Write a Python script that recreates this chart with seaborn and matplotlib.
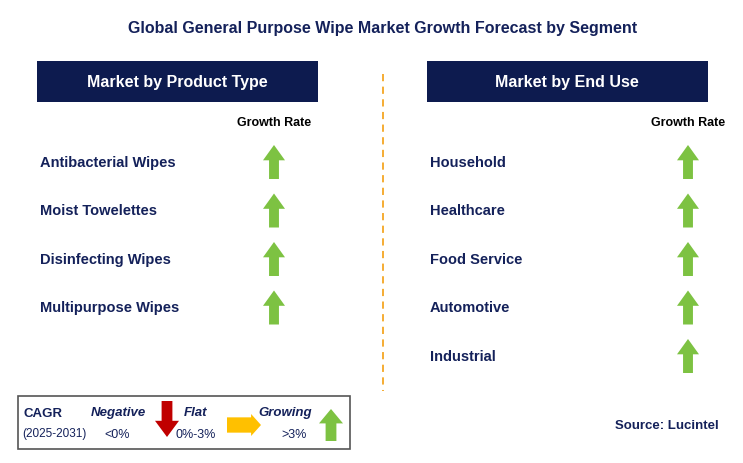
import matplotlib.pyplot as plt
import seaborn as sns
from matplotlib.patches import Rectangle, Polygon

sns.set_theme(style="white", font="Liberation Sans")

title = "Global General Purpose Wipe Market Growth Forecast by Segment"
product_types = ["Antibacterial Wipes", "Moist Towelettes", "Disinfecting Wipes", "Multipurpose Wipes"]
product_trend = ["up", "up", "up", "up"]
end_uses = ["Household", "Healthcare", "Food Service", "Automotive", "Industrial"]
end_use_trend = ["up", "up", "up", "up", "up"]

NAVY = "#0D1B4F"
TXT = "#14215A"
GREEN = "#7DC242"
RED = "#C00000"
ORANGE = "#FFC000"


def arrow(ax, cx, cy, kind, w=22, h=34):
    # block arrow polygon in pixel coords (y grows downward)
    sw, hh = w * 0.45, h * 0.45
    if kind == "up":
        pts = [(cx - w / 2, cy - h / 2 + hh), (cx, cy - h / 2), (cx + w / 2, cy - h / 2 + hh),
               (cx + sw / 2, cy - h / 2 + hh), (cx + sw / 2, cy + h / 2), (cx - sw / 2, cy + h / 2),
               (cx - sw / 2, cy - h / 2 + hh)]
        c = GREEN
    elif kind == "down":
        pts = [(cx - w / 2, cy + h / 2 - hh), (cx, cy + h / 2), (cx + w / 2, cy + h / 2 - hh),
               (cx + sw / 2, cy + h / 2 - hh), (cx + sw / 2, cy - h / 2), (cx - sw / 2, cy - h / 2),
               (cx - sw / 2, cy + h / 2 - hh)]
        c = RED
    else:  # right
        pts = [(cx + w / 2 - hh, cy - h / 2), (cx + w / 2, cy), (cx + w / 2 - hh, cy + h / 2),
               (cx + w / 2 - hh, cy + sw / 2), (cx - w / 2, cy + sw / 2), (cx - w / 2, cy - sw / 2),
               (cx + w / 2 - hh, cy - sw / 2)]
        c = ORANGE
    ax.add_patch(Polygon(pts, closed=True, color=c, lw=0))


fig = plt.figure(figsize=(7.43, 4.64), dpi=100)
ax = fig.add_axes([0, 0, 1, 1])
ax.set_xlim(0, 743)
ax.set_ylim(464, 0)
ax.axis("off")

ax.text(383, 28, title, ha="center", va="center", fontsize=11.5, fontweight="bold", color=TXT)

for x0, head, items, trends, ax_x in [(37, "Market by Product Type", product_types, product_trend, 274),
                                       (427, "Market by End Use", end_uses, end_use_trend, 688)]:
    ax.add_patch(Rectangle((x0, 62), 281, 41, color=NAVY, lw=0))
    ax.text(x0 + 140, 83, head, ha="center", va="center", fontsize=11.5, fontweight="bold", color="white")
    ax.text(ax_x, 123, "Growth Rate", ha="center", va="center", fontsize=9, fontweight="bold", color="black")
    for i, (name, t) in enumerate(zip(items, trends)):
        y = 163 + i * 48.5
        ax.text(x0 + 3, y, name, ha="left", va="center", fontsize=10.5, fontweight="bold", color=TXT)
        arrow(ax, ax_x, y, t)

ax.plot([383, 383], [75, 392], color="#F5A623", lw=1.3, ls=(0, (4, 3)))

# legend box
ax.add_patch(Rectangle((18, 397), 332, 53, fill=False, ec="#555555", lw=1.2))
ax.text(24, 414, "CAGR", fontsize=9.5, fontweight="bold", color=TXT, va="center")
ax.text(22, 434, "(2025-2031)", fontsize=8.5, color=TXT, va="center")
ax.text(118, 413, "Negative", fontsize=9.5, fontweight="bold", style="italic", color=TXT, ha="center", va="center")
ax.text(117, 435, "<0%", fontsize=9, color=TXT, ha="center", va="center")
arrow(ax, 167, 420, "down", w=24, h=36)
ax.text(196, 413, "Flat", fontsize=9.5, fontweight="bold", style="italic", color=TXT, ha="center", va="center")
ax.text(196, 435, "0%-3%", fontsize=9, color=TXT, ha="center", va="center")
arrow(ax, 244, 426, "right", w=34, h=22)
ax.text(285, 413, "Growing", fontsize=9.5, fontweight="bold", style="italic", color=TXT, ha="center", va="center")
ax.text(294, 435, ">3%", fontsize=9, color=TXT, ha="center", va="center")
arrow(ax, 331, 426, "up", w=24, h=32)

ax.text(615, 426, "Source: Lucintel", fontsize=9.5, fontweight="bold", color=TXT, ha="left", va="center")

fig.savefig("out.png", dpi=100)
